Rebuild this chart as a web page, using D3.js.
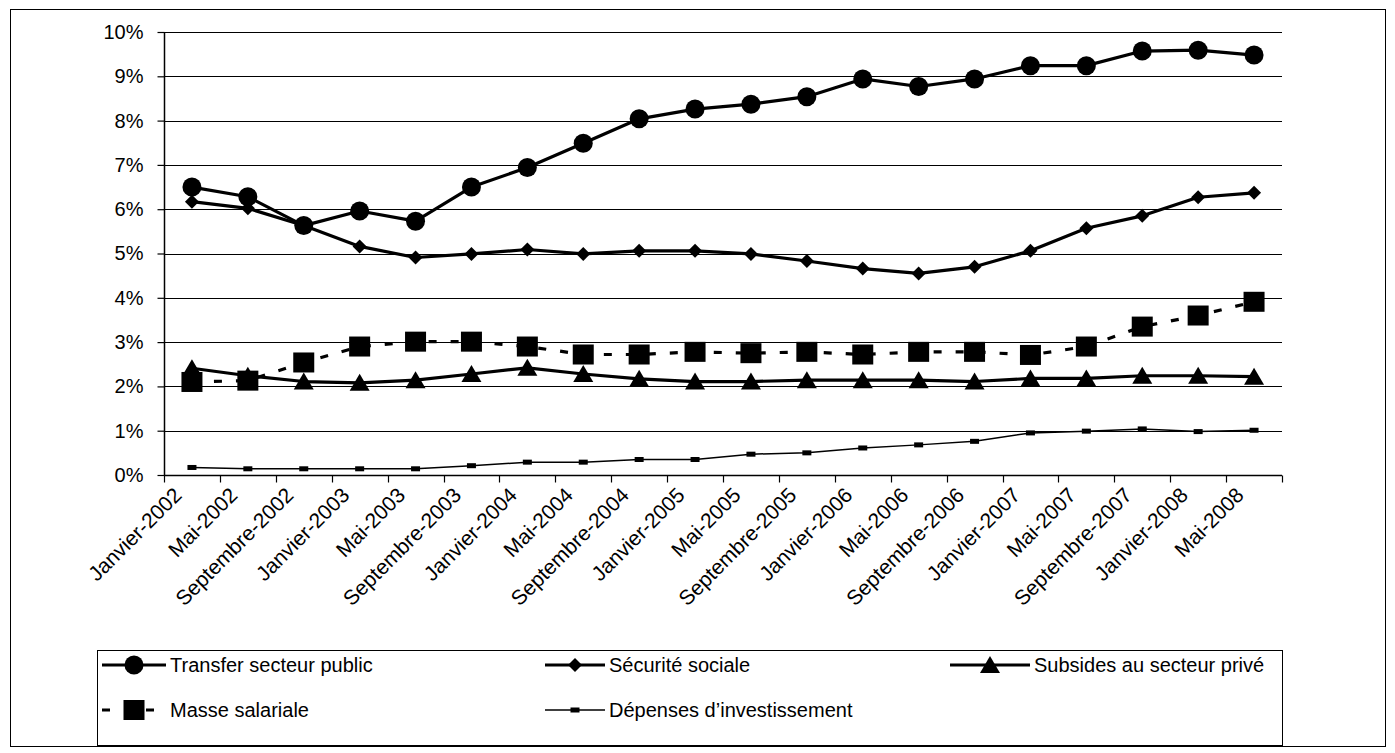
<!DOCTYPE html>
<html>
<head>
<meta charset="utf-8">
<script src="https://cdn.jsdelivr.net/npm/d3@7"></script>
<style>
  html, body { margin: 0; padding: 0; background: #fff; }
  svg { display: block; font-family: Arial, "Liberation Sans", sans-serif; }
</style>
</head>
<body>
<svg id="chart" width="1395" height="753"></svg>
<script>
// Categories (months) shown on the horizontal axis
const categories = [
  "Janvier-2002", "Mai-2002", "Septembre-2002", "Janvier-2003", "Mai-2003",
  "Septembre-2003", "Janvier-2004", "Mai-2004", "Septembre-2004", "Janvier-2005",
  "Mai-2005", "Septembre-2005", "Janvier-2006", "Mai-2006", "Septembre-2006",
  "Janvier-2007", "Mai-2007", "Septembre-2007", "Janvier-2008", "Mai-2008"
];

// Series values, in percent
const transferPublic = [6.50, 6.28, 5.63, 5.96, 5.73, 6.50, 6.94, 7.49, 8.04, 8.26, 8.37, 8.54, 8.94, 8.77, 8.94, 9.24, 9.24, 9.57, 9.59, 9.48];
const securiteSociale = [6.17, 6.02, 5.63, 5.16, 4.91, 4.99, 5.09, 4.99, 5.06, 5.06, 4.99, 4.83, 4.66, 4.55, 4.70, 5.06, 5.57, 5.85, 6.27, 6.37];
const subsidesPrive = [2.41, 2.24, 2.11, 2.08, 2.14, 2.28, 2.42, 2.28, 2.17, 2.11, 2.11, 2.14, 2.14, 2.14, 2.11, 2.18, 2.18, 2.24, 2.24, 2.22];
const masseSalariale = [2.10, 2.13, 2.54, 2.90, 3.01, 3.01, 2.90, 2.72, 2.72, 2.78, 2.75, 2.78, 2.72, 2.78, 2.78, 2.71, 2.90, 3.35, 3.60, 3.91];
const depensesInvest = [0.17, 0.14, 0.14, 0.14, 0.14, 0.21, 0.29, 0.29, 0.35, 0.35, 0.47, 0.50, 0.61, 0.68, 0.76, 0.95, 0.99, 1.04, 0.98, 1.01];

// Y axis tick values (percent)
const yTicks = [0, 1, 2, 3, 4, 5, 6, 7, 8, 9, 10];

// Legend labels
const seriesNames = [
  "Transfer secteur public", "Sécurité sociale", "Subsides au secteur privé",
  "Masse salariale", "Dépenses d\u2019investissement"
];

const svg = d3.select("#chart");
const W = 1395, H = 753;
const plot = { left: 164, right: 1282, top: 32, bottom: 475 };

svg.append("rect").attr("width", W).attr("height", H).attr("fill", "#fff");
// outer frame
svg.append("rect")
  .attr("x", 10.5).attr("y", 9.5)
  .attr("width", 1375).attr("height", 737)
  .attr("fill", "none").attr("stroke", "#000").attr("stroke-width", 1);

const x = d3.scaleBand().domain(categories).range([plot.left, plot.right]).padding(0);
const y = d3.scaleLinear().domain([0, 10]).range([plot.bottom, plot.top]);
const cx = c => x(c) + x.bandwidth() / 2;

// horizontal gridlines
svg.append("g")
  .selectAll("line")
  .data(yTicks.filter(t => t > 0))
  .join("line")
  .attr("x1", plot.left).attr("x2", plot.right)
  .attr("y1", d => Math.round(y(d)) + 0.5).attr("y2", d => Math.round(y(d)) + 0.5)
  .attr("stroke", "#000").attr("stroke-width", 1);

// Y axis
const yAxis = svg.append("g")
  .attr("transform", `translate(${plot.left + 0.5},0)`)
  .call(d3.axisLeft(y).tickValues(yTicks).tickFormat(d => d + "%").tickSize(7).tickPadding(14));
yAxis.select(".domain").attr("stroke", "#000").attr("stroke-width", 1.5)
  .attr("d", `M0,${plot.top}V${plot.bottom}`);
yAxis.selectAll(".tick line").attr("stroke", "#000").attr("stroke-width", 1.2);
yAxis.selectAll(".tick text").attr("font-size", 20).attr("fill", "#000")
  .attr("font-family", "Arial, 'Liberation Sans', sans-serif");

// X axis: ticks at category boundaries, labels at category centres
const xAxisG = svg.append("g").attr("transform", `translate(0,${plot.bottom + 0.5})`);
xAxisG.append("line")
  .attr("x1", plot.left).attr("x2", plot.right)
  .attr("stroke", "#000").attr("stroke-width", 1.5);
const boundaries = categories.map(c => x(c)).concat([plot.right]);
xAxisG.selectAll("line.tk")
  .data(boundaries)
  .join("line").attr("class", "tk")
  .attr("x1", d => Math.round(d) + 0.5).attr("x2", d => Math.round(d) + 0.5)
  .attr("y1", 0).attr("y2", 7)
  .attr("stroke", "#000").attr("stroke-width", 1.2);
xAxisG.selectAll("text")
  .data(categories)
  .join("text")
  .attr("transform", d => `translate(${cx(d) - 9},${21}) rotate(-45)`)
  .attr("text-anchor", "end")
  .attr("font-size", 21)
  .attr("fill", "#000")
  .text(d => d);

// marker shapes
function drawMarker(g, kind, px, py) {
  if (kind === "circle") {
    g.append("circle").attr("cx", px).attr("cy", py).attr("r", 9.5).attr("fill", "#000");
  } else if (kind === "diamond") {
    const s = 7;
    g.append("path").attr("d", `M${px},${py - s}L${px + s},${py}L${px},${py + s}L${px - s},${py}Z`).attr("fill", "#000");
  } else if (kind === "triangle") {
    g.append("path").attr("d", `M${px},${py - 9}L${px + 10},${py + 8}L${px - 10},${py + 8}Z`).attr("fill", "#000");
  } else if (kind === "square") {
    g.append("rect").attr("x", px - 10.5).attr("y", py - 10).attr("width", 21).attr("height", 20).attr("fill", "#000");
  } else if (kind === "dash") {
    g.append("rect").attr("x", px - 4.5).attr("y", py - 2.5).attr("width", 9).attr("height", 5).attr("fill", "#000");
  }
}

const series = [
  { name: seriesNames[0], values: transferPublic, marker: "circle", width: 3.2, dash: null },
  { name: seriesNames[1], values: securiteSociale, marker: "diamond", width: 3.2, dash: null },
  { name: seriesNames[2], values: subsidesPrive, marker: "triangle", width: 3.2, dash: null },
  { name: seriesNames[3], values: masseSalariale, marker: "square", width: 3.2, dash: "8,14" },
  { name: seriesNames[4], values: depensesInvest, marker: "dash", width: 1.5, dash: null }
];

const line = d3.line().x(d => cx(d.c)).y(d => y(d.v));

// draw lines, then markers on top (reverse order so the first series sits on top)
series.slice().reverse().forEach(s => {
  const pts = categories.map((c, i) => ({ c, v: s.values[i] }));
  const g = svg.append("g");
  g.append("path")
    .attr("d", line(pts))
    .attr("fill", "none").attr("stroke", "#000")
    .attr("stroke-width", s.width)
    .attr("stroke-linejoin", "round")
    .attr("stroke-dasharray", s.dash);
  pts.forEach(p => drawMarker(g, s.marker, cx(p.c), y(p.v)));
});

// Legend
const legendBox = { x: 97.5, y: 650.5, w: 1185, h: 95 };
const lg = svg.append("g");
lg.append("rect")
  .attr("x", legendBox.x).attr("y", legendBox.y)
  .attr("width", legendBox.w).attr("height", legendBox.h)
  .attr("fill", "#fff").attr("stroke", "#000").attr("stroke-width", 1);

const legendItems = [
  { s: series[0], lx: 102, rx: 166, ty: 665 },
  { s: series[1], lx: 545, rx: 605, ty: 665 },
  { s: series[2], lx: 950, rx: 1030, ty: 665 },
  { s: series[3], lx: 102, rx: 166, ty: 710 },
  { s: series[4], lx: 545, rx: 605, ty: 710 }
];
legendItems.forEach(it => {
  const g = lg.append("g");
  g.append("line")
    .attr("x1", it.lx).attr("x2", it.rx)
    .attr("y1", it.ty).attr("y2", it.ty)
    .attr("stroke", "#000").attr("stroke-width", it.s.width)
    .attr("stroke-dasharray", it.s.dash);
  drawMarker(g, it.s.marker, (it.lx + it.rx) / 2, it.ty);
  g.append("text")
    .attr("x", it.rx + 4).attr("y", it.ty)
    .attr("dy", "0.35em")
    .attr("font-size", 20)
    .attr("fill", "#000")
    .text(it.s.name);
});
</script>
</body>
</html>
